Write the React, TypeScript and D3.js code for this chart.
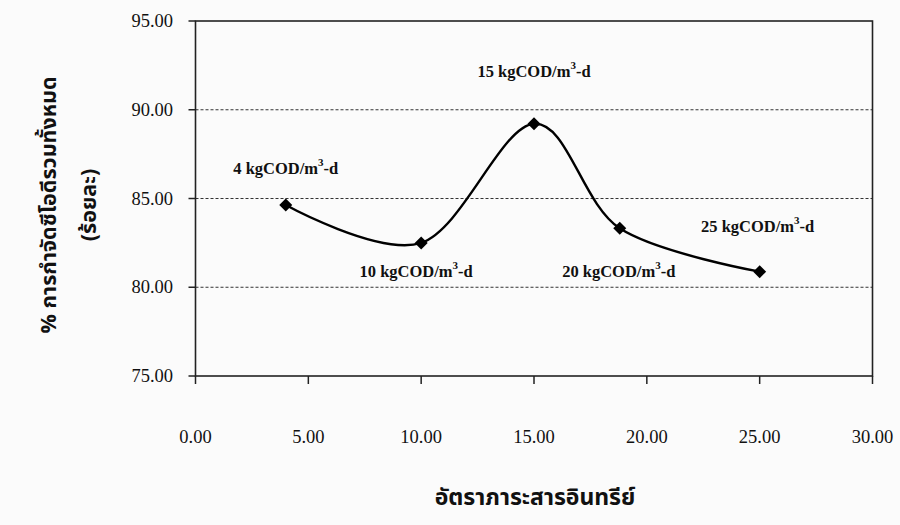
import React from "react";
import * as d3 from "d3";

// Organic loading rate (x) and total COD removal (%)
const loadingRates = [4, 10, 15, 18.8, 25];
const codRemoval = [84.63, 82.5, 89.21, 83.32, 80.88];
const loadingLabels = ["4", "10", "15", "20", "25"];

const xTicks = [0, 5, 10, 15, 20, 25, 30];
const yTicks = [75, 80, 85, 90, 95];
const gridValues = [80, 85, 90];

const xTitle = "อัตราภาระสารอินทรีย์";
const yTitleLines = ["% การกำจัดซีโอดีรวมทั้งหมด", "(ร้อยละ)"];

// label placement around each marker (dx, dy from the point)
const labelShift: [number, number][] = [
  [0, -31],
  [-5, 34],
  [0, -47],
  [-1, 49],
  [-2, -40],
];

const W = 900;
const H = 525;
const plot = { left: 195.5, right: 872.5, top: 21, bottom: 376 };

const serif = "'Liberation Serif', 'Times New Roman', serif";
const thai = "'Noto Sans Thai', 'Loma', 'Tahoma', 'DejaVu Sans', sans-serif";

export default function App() {
  const x = d3.scaleLinear().domain([0, 30]).range([plot.left, plot.right]);
  const y = d3.scaleLinear().domain([75, 95]).range([plot.bottom, plot.top]);

  const pts: [number, number][] = loadingRates.map((v, i) => [x(v), y(codRemoval[i])]);
  const line = d3.line().curve(d3.curveCardinal.tension(0))(pts) || "";

  const diamond = (cx: number, cy: number, r: number) =>
    `M${cx},${cy - r}L${cx + r},${cy}L${cx},${cy + r}L${cx - r},${cy}Z`;

  return (
    <svg
      width={W}
      height={H}
      viewBox={`0 0 ${W} ${H}`}
      style={{ position: "absolute", left: 0, top: 0, background: "#fbfbfb" }}
    >
      {/* horizontal dashed gridlines */}
      {gridValues.map((g) => (
        <line
          key={g}
          x1={plot.left}
          x2={plot.right}
          y1={y(g)}
          y2={y(g)}
          stroke="#333"
          strokeWidth={1}
          strokeDasharray="3,2"
        />
      ))}

      {/* plot frame */}
      <rect
        x={plot.left}
        y={plot.top}
        width={plot.right - plot.left}
        height={plot.bottom - plot.top}
        fill="none"
        stroke="#222"
        strokeWidth={1.6}
      />

      {/* y axis ticks and labels */}
      {yTicks.map((t) => (
        <g key={t}>
          <line x1={plot.left - 7} x2={plot.left} y1={y(t)} y2={y(t)} stroke="#222" strokeWidth={1.5} />
          <text
            x={173}
            y={y(t) + 6}
            textAnchor="end"
            fontFamily={serif}
            fontSize={18.5}
            fill="#111"
          >
            {t.toFixed(2)}
          </text>
        </g>
      ))}

      {/* x axis ticks and labels */}
      {xTicks.map((t) => (
        <g key={t}>
          <line x1={x(t)} x2={x(t)} y1={plot.bottom} y2={plot.bottom + 8} stroke="#222" strokeWidth={1.5} />
          <text
            x={x(t)}
            y={443}
            textAnchor="middle"
            fontFamily={serif}
            fontSize={18.5}
            fill="#111"
          >
            {t.toFixed(2)}
          </text>
        </g>
      ))}

      {/* smoothed series */}
      <path d={line} fill="none" stroke="#000" strokeWidth={2.4} />
      {pts.map(([px, py], i) => (
        <path key={i} d={diamond(px, py, 6.5)} fill="#000" />
      ))}

      {/* point annotations */}
      {pts.map(([px, py], i) => (
        <text
          key={`l${i}`}
          x={px + labelShift[i][0]}
          y={py + labelShift[i][1]}
          textAnchor="middle"
          fontFamily={serif}
          fontWeight="bold"
          fontSize={16.5}
          fill="#111"
        >
          {loadingLabels[i]} kgCOD/m
          <tspan dy={-8} fontSize={11}>3</tspan>
          <tspan dy={8}>-d</tspan>
        </text>
      ))}

      {/* axis titles */}
      <text
        x={535}
        y={505}
        textAnchor="middle"
        fontFamily={thai}
        fontWeight="bold"
        fontSize={23}
        fill="#111"
      >
        {xTitle}
      </text>
      <text
        transform={`translate(56,205) rotate(-90)`}
        textAnchor="middle"
        fontFamily={thai}
        fontWeight="bold"
        fontSize={21.5}
        fill="#111"
      >
        {yTitleLines[0]}
      </text>
      <text
        transform={`translate(96,205) rotate(-90)`}
        textAnchor="middle"
        fontFamily={thai}
        fontWeight="bold"
        fontSize={21.5}
        fill="#111"
      >
        {yTitleLines[1]}
      </text>
    </svg>
  );
}
